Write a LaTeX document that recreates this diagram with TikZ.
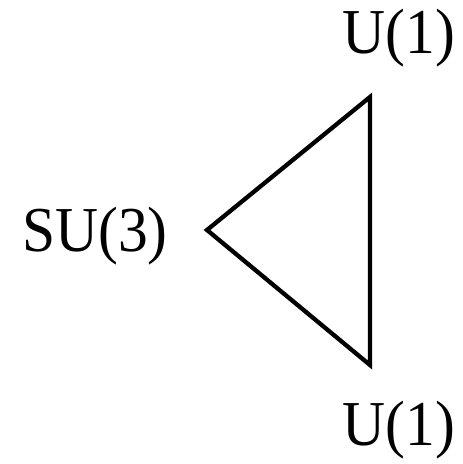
\documentclass[tikz,border=0pt]{standalone}
\usepackage{fontspec}
\setmainfont{Liberation Serif}
\begin{document}
\begin{tikzpicture}[x=1pt,y=-1pt,
  lbl/.style={inner sep=0pt,anchor=base,xscale=0.93,font=\fontsize{64}{64}\selectfont},
  edge/.style={line width=4.3pt,line join=miter}]
\useasboundingbox (0,0) rectangle (463,464);
\coordinate (L) at (207,230);
\coordinate (T) at (370,97);
\coordinate (B) at (370,365);
\draw[edge] (L) -- (T) -- (B) -- cycle;
\node[lbl] (su3) at (95,251) {SU(3)};
\node[lbl] (u1t) at (399,53) {U(1)};
\node[lbl] (u1b) at (399,445) {U(1)};
\end{tikzpicture}
\end{document}
